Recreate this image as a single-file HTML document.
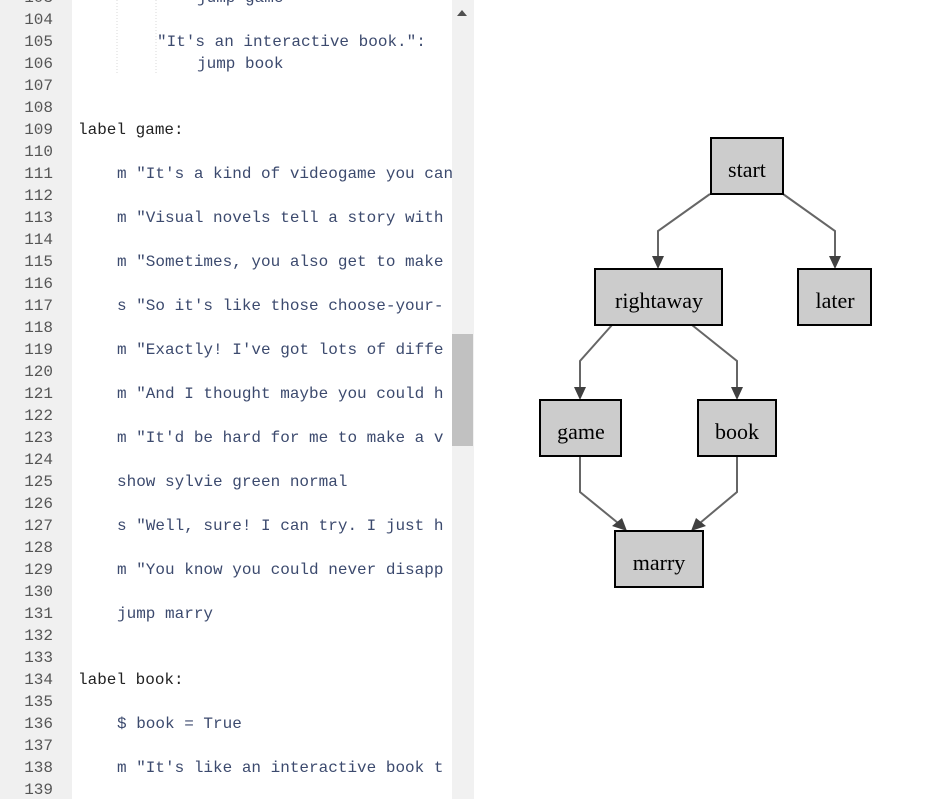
<!DOCTYPE html>
<html><head><meta charset="utf-8"><style>
html,body{margin:0;padding:0;background:#fff;width:944px;height:799px;overflow:hidden}
</style></head><body>
<svg width="944" height="799" xmlns="http://www.w3.org/2000/svg">
<defs><clipPath id="c"><rect x="72" y="0" width="380" height="799"/></clipPath></defs>
<rect x="0" y="0" width="72" height="799" fill="#f0f0f0"/>
<rect x="452" y="0" width="22" height="799" fill="#f1f1f1"/>
<rect x="452" y="334" width="21" height="112" fill="#c1c1c1"/>
<polygon points="457,16 462,10 467,16" fill="#505050"/>
<g stroke="#d8d8d8" stroke-dasharray="1,2" stroke-width="1">
<line x1="117" y1="0" x2="117" y2="74"/><line x1="156" y1="0" x2="156" y2="74"/>
</g>
<g font-family="Liberation Mono, monospace" font-size="16">
<g fill="#555" text-anchor="end">
<text x="53" y="2">103</text>
<text x="53" y="24">104</text><text x="53" y="46">105</text><text x="53" y="68">106</text><text x="53" y="90">107</text><text x="53" y="112">108</text><text x="53" y="134">109</text><text x="53" y="156">110</text><text x="53" y="178">111</text><text x="53" y="200">112</text><text x="53" y="222">113</text><text x="53" y="244">114</text><text x="53" y="266">115</text><text x="53" y="288">116</text><text x="53" y="310">117</text><text x="53" y="332">118</text><text x="53" y="354">119</text><text x="53" y="376">120</text><text x="53" y="398">121</text><text x="53" y="420">122</text><text x="53" y="442">123</text><text x="53" y="464">124</text><text x="53" y="486">125</text><text x="53" y="508">126</text><text x="53" y="530">127</text><text x="53" y="552">128</text><text x="53" y="574">129</text><text x="53" y="596">130</text><text x="53" y="618">131</text><text x="53" y="640">132</text><text x="53" y="662">133</text><text x="53" y="684">134</text><text x="53" y="706">135</text><text x="53" y="728">136</text><text x="53" y="750">137</text><text x="53" y="772">138</text><text x="53" y="794">139</text>
</g>
<g fill="#3c4a6e" xml:space="preserve" clip-path="url(#c)">
<text x="197" y="2">jump game</text>
<text x="157" y="46">"It's an interactive book.":</text>
<text x="197" y="68">jump book</text>
<text x="117" y="178">m "It's a kind of videogame you can</text>
<text x="117" y="222">m "Visual novels tell a story with</text>
<text x="117" y="266">m "Sometimes, you also get to make</text>
<text x="117" y="310">s "So it's like those choose-your-</text>
<text x="117" y="354">m "Exactly! I've got lots of diffe</text>
<text x="117" y="398">m "And I thought maybe you could h</text>
<text x="117" y="442">m "It'd be hard for me to make a v</text>
<text x="117" y="486">show sylvie green normal</text>
<text x="117" y="530">s "Well, sure! I can try. I just h</text>
<text x="117" y="574">m "You know you could never disapp</text>
<text x="117" y="618">jump marry</text>
<text x="117" y="728">$ book = True</text>
<text x="117" y="772">m "It's like an interactive book t</text>
</g>
<g fill="#222">
<text x="78" y="134">label game:</text>
<text x="78" y="684">label book:</text>
</g>
</g>
<g fill="none" stroke="#666" stroke-width="2">
<polyline points="710,194 658,231 658,260"/>
<polyline points="783,194 835,231 835,260"/>
<polyline points="612,325 580,361 580,391"/>
<polyline points="692,325 737,361 737,391"/>
<polyline points="580,456 580,492 618,523"/>
<polyline points="737,456 737,492 700,523"/>
</g>
<g fill="#404040">
<polygon points="652,256 664,256 658,269"/>
<polygon points="829,256 841,256 835,269"/>
<polygon points="574,387 586,387 580,400"/>
<polygon points="731,387 743,387 737,400"/>
<polygon points="612,526 622,518 627,531"/>
<polygon points="696,518 706,526 691,531"/>
</g>
<g fill="#cccccc" stroke="#000" stroke-width="2">
<rect x="711" y="138" width="72" height="56"/>
<rect x="595" y="269" width="127" height="56"/>
<rect x="798" y="269" width="73" height="56"/>
<rect x="540" y="400" width="81" height="56"/>
<rect x="698" y="400" width="78" height="56"/>
<rect x="615" y="531" width="88" height="56"/>
</g>
<g font-family="Liberation Serif, serif" font-size="22" text-anchor="middle" fill="#000">
<text x="747" y="177">start</text>
<text x="659" y="308">rightaway</text>
<text x="835" y="308">later</text>
<text x="581" y="439">game</text>
<text x="737" y="439">book</text>
<text x="659" y="570">marry</text>
</g>
</svg>
</body></html>
